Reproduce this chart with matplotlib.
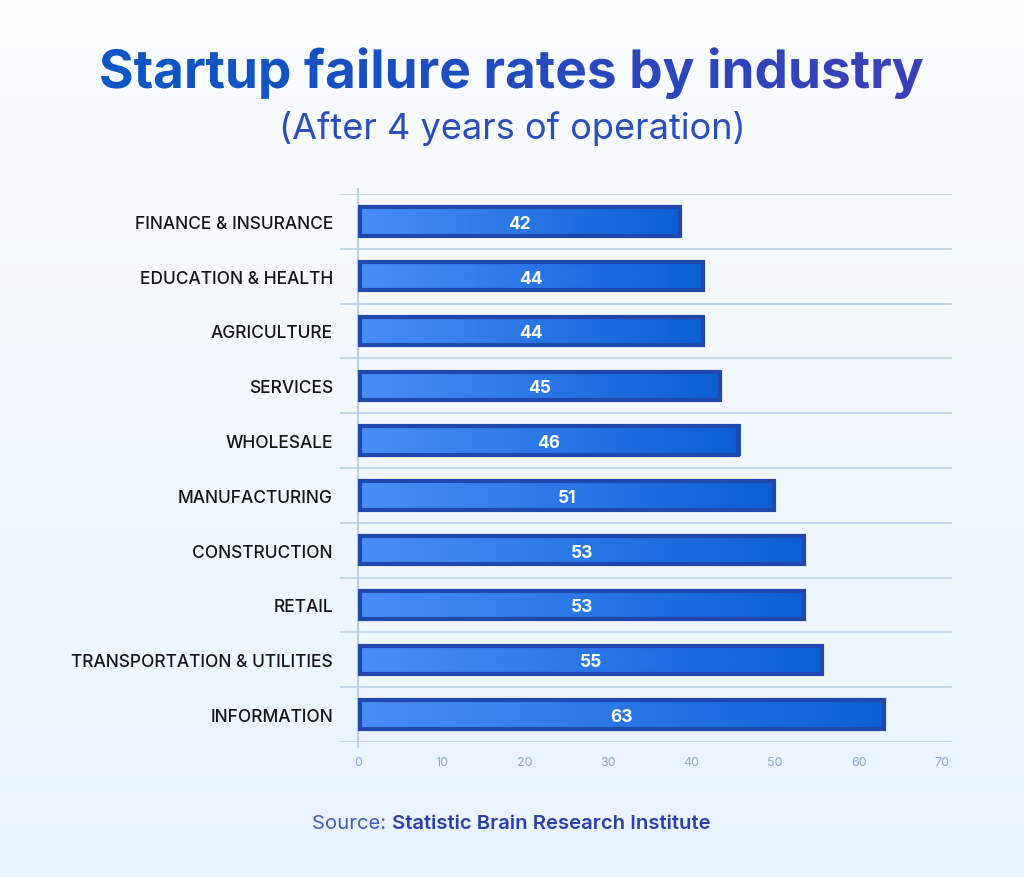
import numpy as np
import matplotlib
matplotlib.use("Agg")
import matplotlib.pyplot as plt
from matplotlib.patches import Rectangle, PathPatch
from matplotlib.colors import LinearSegmentedColormap
from matplotlib.textpath import TextPath
from matplotlib.font_manager import FontProperties
from matplotlib.transforms import Affine2D

# data (top to bottom)
industries = [
    "FINANCE & INSURANCE",
    "EDUCATION & HEALTH",
    "AGRICULTURE",
    "SERVICES",
    "WHOLESALE",
    "MANUFACTURING",
    "CONSTRUCTION",
    "RETAIL",
    "TRANSPORTATION & UTILITIES",
    "INFORMATION",
]
failure_rates = [42, 44, 44, 45, 46, 51, 53, 53, 55, 63]
# bar lengths as drawn in the original graphic (they don't quite match the labels)
bar_lengths = [38.8, 41.5, 41.5, 43.6, 45.8, 50.1, 53.7, 53.7, 55.8, 63.2]
x_ticks = [0, 10, 20, 30, 40, 50, 60, 70]

FONT = "Inter"
W, H = 1024, 878
fig = plt.figure(figsize=(W / 100, H / 100), dpi=100)

# background gradient: white at the top, pale blue at the bottom
bg = fig.add_axes([0, 0, 1, 1], zorder=-10)
bg_cmap = LinearSegmentedColormap.from_list("bg", ["#fbfdff", "#e9f3fe"])
bg.imshow(np.linspace(0, 1, 256).reshape(-1, 1), aspect="auto", cmap=bg_cmap,
          extent=[0, W, 0, H], origin="upper")
bg.set_xlim(0, W)
bg.set_ylim(0, H)
bg.axis("off")

# chart area: x from -2.16 to 71.2 spans px 340..952, gridlines at 195..743
left, right = 340 / W, 952 / W
top, bottom = 195 / H, 743 / H
ax = fig.add_axes([left, 1 - bottom, right - left, bottom - top])
ax.patch.set_alpha(0)
n = len(industries)

for s in ax.spines.values():
    s.set_visible(False)

# horizontal separators
for k in range(n + 1):
    ax.axhline(k - 0.5, color="#c2d3ea", lw=1.3, zorder=1)
# y axis line at zero
ax.plot([0, 0], [-0.6, n - 0.4], color="#b7c9e3", lw=1.3, zorder=1, clip_on=False)

bar_cmap = LinearSegmentedColormap.from_list("bar", ["#4a8ef8", "#0b5fd4"])
grad = np.linspace(0, 1, 256).reshape(1, -1)
bh = 0.58
for i, (length, rate) in enumerate(zip(bar_lengths, failure_rates)):
    y0, y1 = i - bh / 2, i + bh / 2
    ax.imshow(grad, aspect="auto", cmap=bar_cmap,
              extent=[0, length, y1, y0], zorder=2, interpolation="bicubic")
    ax.add_patch(Rectangle((0.2, y0 + 0.03), length - 0.4, bh - 0.06,
                           fill=False, edgecolor="#2149ad", lw=3.0, zorder=3))
    ax.text(length / 2, i, str(rate), ha="center", va="center_baseline",
            color="white", fontsize=12.5, fontweight="bold", family=FONT, zorder=4)
    ax.text(-3.0, i, industries[i], ha="right", va="center_baseline",
            color="#141414", fontsize=12.5, fontweight="medium", family=FONT,
            clip_on=False)

ax.set_xlim(-2.16, 71.2)
ax.set_ylim(n - 0.5, -0.5)
ax.set_yticks([])
ax.set_xticks(x_ticks)
ax.set_xticklabels([str(t) for t in x_ticks], color="#8ea7cf", fontsize=9, family=FONT)
ax.tick_params(axis="x", length=0, pad=10)

# title with a left-to-right blue -> indigo gradient, clipped to the glyph outlines
title = "Startup failure rates by industry"
fp = FontProperties(family=FONT, weight="bold")
tp = TextPath((0, 0), title, size=38.2 * 100 / 72, prop=fp)
ext = tp.get_extents()
cx, base_y = W / 2, H - 89
tp = Affine2D().translate(cx - (ext.x0 + ext.x1) / 2, base_y).transform_path(tp)
ext = tp.get_extents()
title_cmap = LinearSegmentedColormap.from_list("title", ["#0a58c6", "#3a40b8"])
im = bg.imshow(grad, aspect="auto", cmap=title_cmap,
               extent=[ext.x0, ext.x1, ext.y0, ext.y1], zorder=5)
clip = PathPatch(tp, transform=bg.transData, facecolor="none", edgecolor="none")
bg.add_patch(clip)
im.set_clip_path(clip)

fig.text(0.5, 1 - 129 / H, "(After 4 years of operation)", ha="center", va="center",
         fontsize=26, family=FONT, fontweight="normal", color="#2a4fbd")

# source line
src_y = 1 - 824 / H
t1 = fig.text(0.305, src_y, "Source: ", ha="left", va="center", fontsize=14.6,
              family=FONT, color="#3d5cc2")
fig.canvas.draw()
bb = t1.get_window_extent()
fig.text(bb.x1 / W, src_y, "Statistic Brain Research Institute", ha="left", va="center",
         fontsize=14.6, fontweight="semibold", family=FONT, color="#2a40ad")

fig.savefig("out.png", dpi=100)
